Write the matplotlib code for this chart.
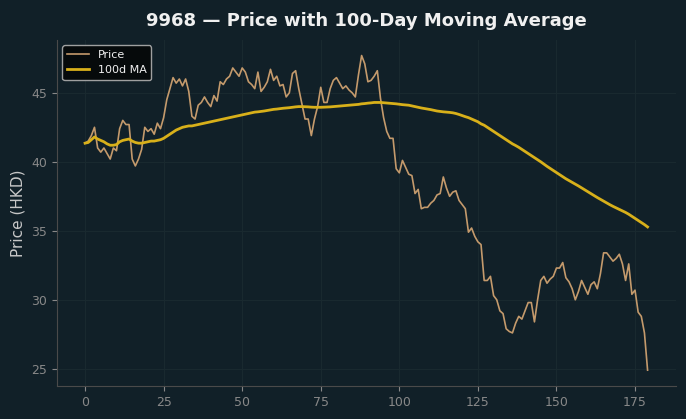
import numpy as np
import pandas as pd
from matplotlib import pyplot as plt

# closing price, one value per trading day
price = [41.35, 41.5, 41.9, 42.5, 41.0, 40.7, 41.0, 40.6, 40.2, 41.0,
         40.8, 42.4, 43.0, 42.7, 42.7, 40.2, 39.7, 40.2, 40.9, 42.5,
         42.2, 42.4, 42.0, 42.8, 42.4, 43.2, 44.5, 45.3, 46.1, 45.7,
         46.0, 45.5, 46.0, 45.1, 43.3, 43.1, 44.1, 44.3, 44.7, 44.3,
         44.0, 44.8, 44.4, 45.8, 45.6, 46.0, 46.2, 46.8, 46.5, 46.2,
         46.8, 46.5, 45.8, 45.6, 45.3, 46.5, 45.1, 45.4, 45.8, 46.7,
         45.9, 46.2, 45.5, 45.6, 44.7, 45.0, 46.4, 46.6, 45.3, 44.2,
         43.1, 43.1, 41.9, 43.1, 44.0, 45.4, 44.3, 44.3, 45.3, 45.9,
         46.1, 45.7, 45.3, 45.5, 45.2, 45.0, 44.7, 46.3, 47.7, 47.1,
         45.8, 45.9, 46.2, 46.6, 44.6, 43.2, 42.2, 41.7, 41.7, 39.5,
         39.2, 40.1, 39.6, 39.1, 39.0, 37.7, 38.0, 36.6, 36.7, 36.7,
         37.0, 37.2, 37.6, 37.7, 38.9, 38.1, 37.5, 37.8, 37.9, 37.2,
         36.9, 36.6, 34.9, 35.2, 34.6, 34.2, 34.0, 31.4, 31.4, 31.7,
         30.3, 30.0, 29.2, 29.0, 27.9, 27.7, 27.6, 28.3, 28.8, 28.6,
         29.2, 29.8, 29.8, 28.4, 30.0, 31.4, 31.7, 31.2, 31.5, 31.7,
         32.3, 32.3, 32.7, 31.6, 31.3, 30.8, 30.0, 30.6, 31.4, 30.9,
         30.4, 31.1, 31.3, 30.8, 31.9, 33.4, 33.4, 33.1, 32.8, 33.0,
         33.3, 32.6, 31.4, 32.6, 30.4, 30.7, 29.1, 28.8, 27.6, 24.9]

# 100-day moving average
ma100 = [41.35, 41.4, 41.6, 41.8, 41.65, 41.55, 41.45, 41.3, 41.2, 41.2,
         41.25, 41.45, 41.55, 41.6, 41.65, 41.5, 41.4, 41.35, 41.35, 41.4,
         41.45, 41.5, 41.5, 41.55, 41.6, 41.7, 41.85, 42.0, 42.15, 42.3,
         42.4, 42.5, 42.55, 42.6, 42.6, 42.65, 42.7, 42.75, 42.8, 42.85,
         42.9, 42.95, 43.0, 43.05, 43.1, 43.15, 43.2, 43.25, 43.3, 43.35,
         43.4, 43.45, 43.5, 43.55, 43.6, 43.62, 43.65, 43.68, 43.72, 43.76,
         43.8, 43.82, 43.85, 43.88, 43.9, 43.92, 43.95, 43.98, 44.0, 44.0,
         43.99, 43.98, 43.96, 43.95, 43.95, 43.95, 43.96, 43.97, 43.98, 44.0,
         44.02, 44.04, 44.06, 44.08, 44.1, 44.12, 44.14, 44.16, 44.2, 44.22,
         44.25, 44.27, 44.3, 44.3, 44.3, 44.28, 44.26, 44.24, 44.22, 44.2,
         44.17, 44.14, 44.12, 44.1, 44.05, 44.0, 43.95, 43.9, 43.86, 43.82,
         43.78, 43.73, 43.68, 43.65, 43.62, 43.6, 43.58, 43.55, 43.5, 43.43,
         43.35, 43.27, 43.2, 43.1, 43.0, 42.9, 42.75, 42.65, 42.5, 42.35,
         42.2, 42.05, 41.9, 41.75, 41.6, 41.45, 41.3, 41.18, 41.05, 40.9,
         40.75, 40.6, 40.45, 40.3, 40.15, 40.0, 39.83, 39.67, 39.52, 39.37,
         39.22, 39.07, 38.92, 38.77, 38.64, 38.51, 38.38, 38.25, 38.11, 37.97,
         37.83, 37.69, 37.55, 37.41, 37.28, 37.15, 37.02, 36.89, 36.77, 36.66,
         36.55, 36.44, 36.33, 36.2, 36.05, 35.9, 35.75, 35.6, 35.45, 35.28]

days = np.arange(len(price))

bg = '#112028'
fig, ax = plt.subplots(figsize=(6.86, 4.19), dpi=100)
fig.patch.set_facecolor(bg)
ax.set_facecolor(bg)
fig.subplots_adjust(left=0.083, right=0.985, bottom=0.079, top=0.905)

ax.plot(days, price, color='#c49a6c', linewidth=1.2, label='Price')
ax.plot(days, ma100, color='#d8b01a', linewidth=2, label='100d MA')

ax.set_title('9968 \u2014 Price with 100-Day Moving Average', color='#f0f0f0',
             fontsize=13, fontweight='bold', pad=10)
ax.set_ylabel('Price (HKD)', color='#c8c8c8', fontsize=11)
ax.set_xticks([0, 25, 50, 75, 100, 125, 150, 175])
ax.set_yticks([25, 30, 35, 40, 45])

ax.grid(True, color='#19292f', linewidth=0.8)
ax.set_axisbelow(True)
for s in ['top', 'right']:
    ax.spines[s].set_visible(False)
for s in ['left', 'bottom']:
    ax.spines[s].set_color('#4a4a4a')
ax.tick_params(colors='#888888', labelsize=9)

leg = ax.legend(loc='upper left', fontsize=8, facecolor='#050808',
                edgecolor='#b0b0b0', labelcolor='#f0f0f0', framealpha=0.9)

plt.savefig('out.png', facecolor=bg)
